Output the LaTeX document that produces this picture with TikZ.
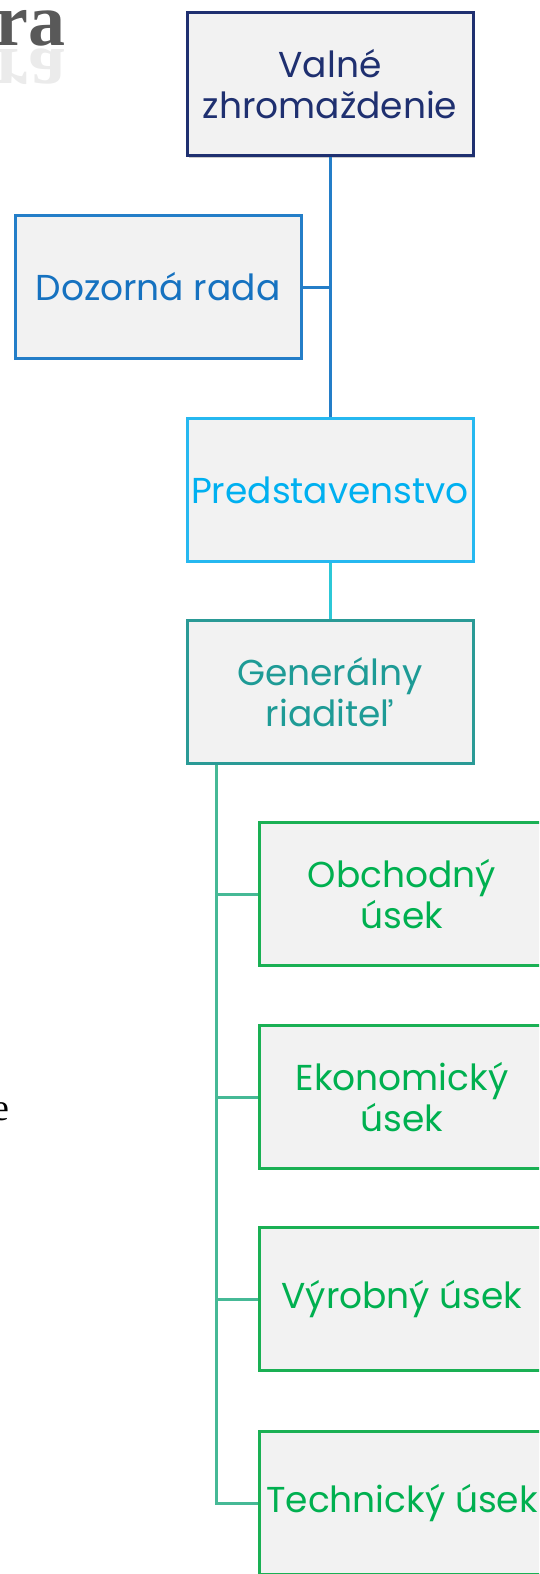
\documentclass[tikz,border=0pt]{standalone}
\usepackage{fontspec}
\setmainfont{Liberation Serif}
\newfontfamily\boxfont{Poppins}
\usetikzlibrary{shadows}

\definecolor{navy}{RGB}{31,48,112}
\definecolor{dozor}{RGB}{36,126,200}
\definecolor{dozortext}{RGB}{22,114,192}
\definecolor{sky}{RGB}{38,184,240}
\definecolor{skytext}{RGB}{0,176,240}
\definecolor{teal}{RGB}{42,154,150}
\definecolor{tealtext}{RGB}{30,155,150}
\definecolor{cyanline}{RGB}{44,200,215}
\definecolor{leaf}{RGB}{26,176,84}
\definecolor{leaftext}{RGB}{0,176,80}
\definecolor{trunkline}{RGB}{70,185,150}
\definecolor{boxgray}{RGB}{242,242,242}
\definecolor{titlegray}{RGB}{89,89,89}

\begin{document}
\begin{tikzpicture}[x=1pt,y=-1pt,
    unit/.style={draw,line width=3pt,fill=boxgray,minimum width=286pt,minimum height=143pt,
        align=center,inner sep=0pt,font=\boxfont\fontsize{36}{41}\selectfont},
    link/.style={line width=3pt}]
    \useasboundingbox (0,0) rectangle (539,1574);
    \clip (0,0) rectangle (539,1574);

    \node [font=\bfseries\fontsize{74}{74}\selectfont, text=titlegray, anchor=base east, inner sep=0pt] (title) at (66,45) {ra};
    \node [font=\bfseries\fontsize{74}{74}\selectfont, text=titlegray, anchor=base east, inner sep=0pt,
        transform shape, yscale=-1, opacity=0.12] (mirror) at (66,49) {ra};
    \node [font=\fontsize{38}{38}\selectfont, anchor=base east, inner sep=0pt] (cut) at (10,1120) {e};

    \node [unit, draw=navy, text=navy, drop shadow={opacity=0.4}] (vz) at (330,84) {Valné\\zhromaždenie};
    \node [unit, draw=dozor, text=dozortext] (dr) at (158,287) {Dozorná rada};
    \node [unit, draw=sky, text=skytext] (pr) at (330,490) {Predstavenstvo};
    \node [unit, draw=teal, text=tealtext] (gr) at (330,692) {Generálny\\riaditeľ};
    \node [unit, draw=leaf, text=leaftext] (ou) at (402,894) {Obchodný\\úsek};
    \node [unit, draw=leaf, text=leaftext] (eu) at (402,1097) {Ekonomický\\úsek};
    \node [unit, draw=leaf, text=leaftext] (vu) at (402,1299) {Výrobný úsek};
    \node [unit, draw=leaf, text=leaftext] (tu) at (402,1503) {Technický úsek};

    \draw [link, dozor] (vz.south) -- (pr.north);
    \draw [link, dozor] (dr.east) -- (dr.east -| vz.south);
    \draw [link, cyanline] (pr) -- (gr);
    \coordinate (trunk) at (216,0);
    \draw [link, trunkline] (gr.south -| trunk) -- (trunk |- tu.west) -- (tu.west);
    \foreach \n in {ou,eu,vu}
        \draw [link, trunkline] (trunk |- \n.west) -- (\n.west);
\end{tikzpicture}
\end{document}
